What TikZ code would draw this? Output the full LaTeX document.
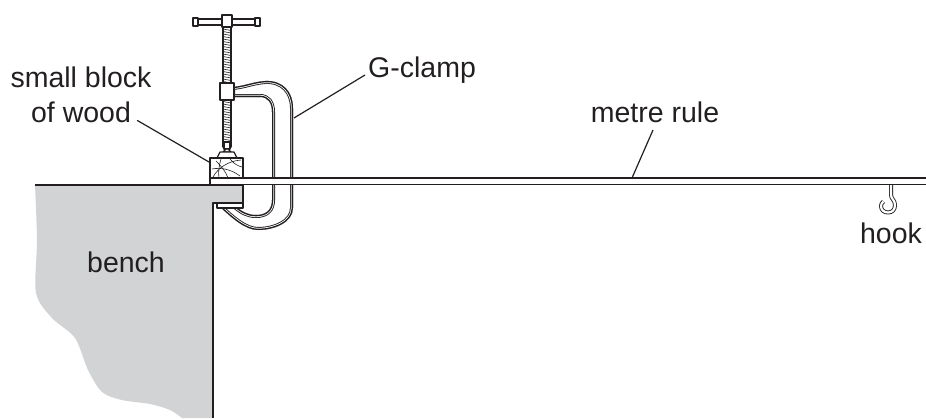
\documentclass[tikz,border=0pt]{standalone}
\usepackage{fontspec}
\setmainfont{Liberation Sans}
\usetikzlibrary{positioning}
\definecolor{benchgrey}{HTML}{D1D3D4}
\definecolor{inkc}{HTML}{231F20}
\newcommand{\gframepath}{(232,87) .. controls (245,86) and (252,82) .. (265,81)
  .. controls (283,80) and (293,92) .. (293,108) -- (293,208)
  .. controls (293,222) and (275,230) .. (258,230)
  .. controls (245,230) and (232,218) .. (219,206) -- (234,205)
  .. controls (242,212) and (248,215) .. (256,215)
  .. controls (266,215) and (272,210) .. (272,200) -- (272,112)
  .. controls (272,103) and (268,97) .. (260,97) -- (232,97) -- cycle}
\tikzset{
  lbl/.style={inner sep=0pt, text=inkc, font=\fontsize{28.5}{34}\selectfont},
  leader/.style={draw=inkc, line width=1.2pt},
  edge/.style={draw=inkc, line width=1.4pt},
  part/.style={draw=inkc, fill=white, line width=1.3pt},
}

\begin{document}
\begin{tikzpicture}[x=1pt, y=-1pt, line join=round]
  \useasboundingbox (0,0) rectangle (926,418);

  % bench
  \fill[benchgrey] plot[smooth] coordinates {(35,185) (37,240) (36,293) (52,318) (75,338)
      (88,370) (102,392) (122,400) (150,404) (170,410) (182,418)}
    -- (213,418) -- (213,203) -- (243,203) -- (243,185) -- cycle;
  \draw[edge] (35,185) -- (243,185) -- (243,203) -- (213,203) -- (213,418);

  % G-clamp frame
  \begin{scope}
    \clip \gframepath;
    \fill[white] \gframepath;
    \draw[inkc, line width=6pt] \gframepath;
    \draw[white, line width=4.2pt] \gframepath;
    \draw[inkc, line width=2.6pt] \gframepath;
  \end{scope}

  % metre rule
  \filldraw[part] (210,178) rectangle (927,184.5);

  % screw and handle
  \filldraw[part] (223,27) rectangle (231,147);
  \foreach \t in {0,...,46}
    \draw[inkc, line width=0.6pt] (223,29+2.5*\t) -- (231,30.5+2.5*\t);
  \filldraw[part] (195,19) rectangle (258,25);
  \filldraw[part] (193,18) rectangle (198,26);
  \filldraw[part] (255,18) rectangle (260,26);
  \filldraw[part] (222,15) rectangle (232,27);
  \filldraw[part] (220,83) rectangle (234,100);

  % swivel foot
  \filldraw[part] (224,142) rectangle (230,149);
  \filldraw[part] (226,149) -- (228,149) -- (231,152) -- (223,152) -- cycle;
  \filldraw[part] (220,152) -- (234,152) -- (237,158) -- (217,158) -- cycle;

  % block of wood
  \filldraw[part] (210,158) rectangle (243,178);
  \draw[inkc, line width=0.6pt] (213,177) .. controls (218,168) and (228,161) .. (241,160);
  \draw[inkc, line width=0.6pt] (212,169) .. controls (222,167) and (232,170) .. (240,176);
  \draw[inkc, line width=0.6pt] (216,161) .. controls (222,167) and (226,172) .. (228,178);
  \draw[inkc, line width=0.6pt] (221,159) .. controls (219,166) and (218,172) .. (219,178);
  \draw[inkc, line width=0.6pt] (230,159) .. controls (234,164) and (238,166) .. (242,167);

  % lower jaw pad
  \filldraw[part] (217,203) rectangle (243,208);

  % hook
  \draw[inkc, double=white, double distance=2.2pt, line width=0.9pt]
    (891,185) -- (891,195) .. controls (891,199) and (895,200) .. (895,205)
    .. controls (895,210) and (892,212.5) .. (888,212.5)
    .. controls (884,212.5) and (881,210) .. (881,206)
    .. controls (881,204) and (882,202.5) .. (883.5,201.5);

  % labels
  \node[lbl, anchor=base] (small) at (81,87) {small block};
  \node[lbl, below=14pt of small] (wood) {of wood};
  \node[lbl, anchor=base west] (gclamp) at (368,77) {G-clamp};
  \node[lbl, anchor=base] (metre) at (655,122) {metre rule};
  \node[lbl, anchor=base] (bench) at (126,272) {bench};
  \node[lbl, anchor=base] (hook) at (891,243) {hook};

  \coordinate (blk) at (209,162);
  \coordinate (frm) at (294,118);
  \coordinate (rul) at (632,178);
  \draw[leader] ([xshift=6pt,yshift=2pt]wood.base east) -- (blk);
  \draw[leader] ([xshift=-3pt,yshift=2pt]gclamp.base west) -- (frm);
  \draw[leader] ([xshift=-2pt,yshift=-8pt]metre.base) -- (rul);
\end{tikzpicture}
\end{document}
